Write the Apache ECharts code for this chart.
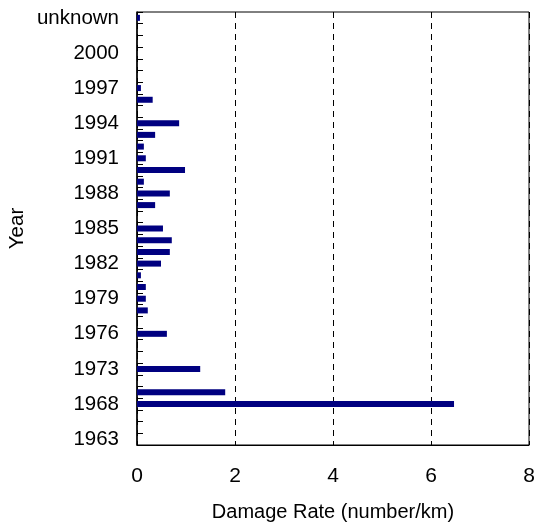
<!DOCTYPE html>
<html>
<head>
<meta charset="utf-8">
<script src="https://cdn.jsdelivr.net/npm/echarts@6/dist/echarts.min.js"></script>
<style>
  html, body { margin: 0; padding: 0; background: #fff; }
  #chart { width: 537px; height: 525px; }
</style>
</head>
<body>
<div id="chart"></div>
<script>
// categories bottom -> top, only every 3rd label is printed
const years = [
  '1963', '1965', '1967', '1968', '1970', '1972',
  '1973', '1974', '1975', '1976', '1977', '1978', '1979', '1980', '1981',
  '1982', '1983', '1984', '1985', '1986', '1987', '1988', '1989', '1990',
  '1991', '1992', '1993', '1994', '1995', '1996', '1997', '1998', '1999',
  '2000', '2001', '2002', 'unknown',
];
// damage rate (number/km)
const damageRate = [
  0, 0, 0, 6.47, 1.8, 0,
  1.29, 0, 0, 0.61, 0, 0.22, 0.18, 0.18, 0.08,
  0.49, 0.67, 0.71, 0.53, 0, 0.37, 0.67, 0.14, 0.98,
  0.18, 0.14, 0.37, 0.86, 0, 0.32, 0.08, 0, 0,
  0, 0, 0, 0.06,
];
const xTicks = [0, 2, 4, 6, 8];

const font = 'Liberation Sans, Arial, sans-serif';
const chart = echarts.init(document.getElementById('chart'));

chart.setOption({
  animation: false,
  grid: {
    left: 137,
    right: 8,
    top: 12,
    bottom: 80,
    outerBoundsMode: 'none',
    containLabel: false,
    show: true,
    borderColor: '#000',
    borderWidth: 1,
  },
  xAxis: {
    type: 'value',
    min: xTicks[0],
    max: xTicks[xTicks.length - 1],
    interval: 2,
    name: 'Damage Rate (number/km)',
    nameLocation: 'middle',
    nameGap: 57,
    nameMoveOverlap: false,
    nameTextStyle: { fontFamily: font, fontSize: 20, color: '#000' },
    axisLine: { show: true, lineStyle: { color: '#000', width: 1 } },
    axisTick: { show: false },
    axisLabel: { fontFamily: font, fontSize: 21, color: '#000', margin: 21 },
    splitLine: { show: true, lineStyle: { color: '#000', type: [6, 5], width: 1 } },
  },
  yAxis: {
    type: 'category',
    data: years,
    boundaryGap: true,
    name: 'Year',
    nameLocation: 'middle',
    nameGap: 109,
    nameMoveOverlap: false,
    nameRotate: 90,
    nameTextStyle: { fontFamily: font, fontSize: 20.5, color: '#000' },
    axisLine: { show: true, lineStyle: { color: '#000', width: 1.5 } },
    axisTick: { show: true, inside: true, length: 6, interval: 0, lineStyle: { color: '#000' } },
    axisLabel: { interval: 2, fontFamily: font, fontSize: 20.5, color: '#000', margin: 18 },
    splitLine: { show: false },
  },
  series: [
    {
      type: 'bar',
      data: damageRate,
      barWidth: 6,
      itemStyle: { color: '#000080' },
    },
  ],
});
</script>
</body>
</html>
